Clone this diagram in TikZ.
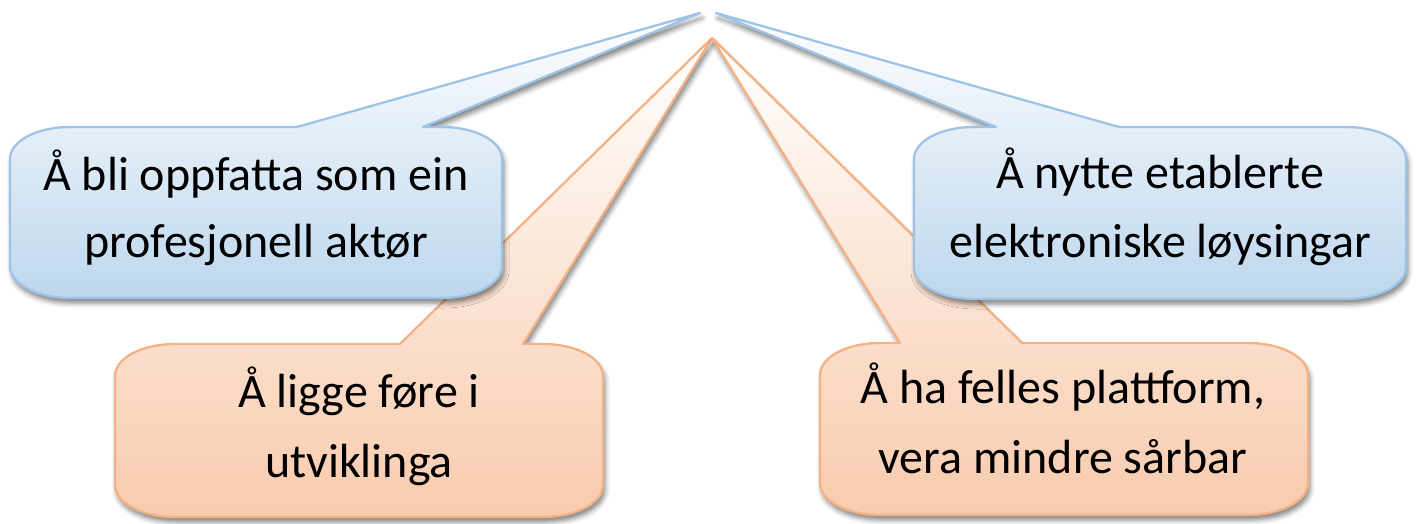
\documentclass[tikz,border=0pt]{standalone}
\usepackage{fontspec}
\setmainfont{Carlito}
\usetikzlibrary{shadows.blur}
\definecolor{blueline}{HTML}{9DC3E6}
\definecolor{bluefill}{HTML}{BDD7EE}
\definecolor{orline}{HTML}{F4B183}
\definecolor{orfill}{HTML}{F8CBAD}
\tikzset{
  bluecall/.style={draw=blueline, line width=2.3pt, line join=round, top color=white, bottom color=bluefill,
    blur shadow={shadow xshift=2pt, shadow yshift=-5pt, shadow blur radius=5pt, shadow opacity=50}},
  orcall/.style={draw=orline, line width=2.3pt, line join=round, top color=white, bottom color=orfill,
    blur shadow={shadow xshift=2pt, shadow yshift=-5pt, shadow blur radius=5pt, shadow opacity=50}},
  lbl/.style={anchor=base, inner sep=0pt, font=\fontsize{48}{67}\selectfont, text=black}
}
% #1 style, #2 L, #3 T, #4 R, #5 B, #6 wedge left, #7 wedge right, #8 tip x, #9 tip y
\newcommand{\callshape}[9]{%
  \path[#1] (#2,{#3+32}) .. controls (#2,{#3+14}) and ({#2+27},#3) .. ({#2+60},#3)
    -- (#6,#3) -- (#8,#9) -- (#7,#3)
    -- ({#4-60},#3) .. controls ({#4-27},#3) and (#4,{#3+14}) .. (#4,{#3+32})
    -- (#4,{#5-32}) .. controls (#4,{#5-14}) and ({#4-27},#5) .. ({#4-60},#5)
    -- ({#2+60},#5) .. controls ({#2+27},#5) and (#2,{#5-14}) .. (#2,{#5-32}) -- cycle;}
\begin{document}
\begin{tikzpicture}[x=1pt,y=-1pt]
\useasboundingbox (0,0) rectangle (1416,524);
% orange callouts (behind)
\callshape{orcall}{115}{344}{603}{517}{400}{523}{712}{38}
\callshape{orcall}{820}{343}{1308}{515}{900}{1022}{712}{38}
% blue callouts
\callshape{bluecall}{10}{127}{502}{298}{297}{423}{700}{13}
\callshape{bluecall}{914}{127}{1406}{299}{996}{1119}{716}{13}
% texts
\node[lbl] (a1) at (256,190) {Å bli oppfatta som ein};
\node[lbl] (a2) at (256,257) {profesjonell aktør};
\node[lbl] (b1) at (1160,188) {Å nytte etablerte};
\node[lbl] (b2) at (1160,257) {elektroniske løysingar};
\node[lbl] (c1) at (359,407) {Å ligge føre i};
\node[lbl] (c2) at (359,477) {utviklinga};
\node[lbl] (d1) at (1063,403) {Å ha felles plattform,};
\node[lbl] (d2) at (1063,473) {vera mindre sårbar};
\end{tikzpicture}
\end{document}
